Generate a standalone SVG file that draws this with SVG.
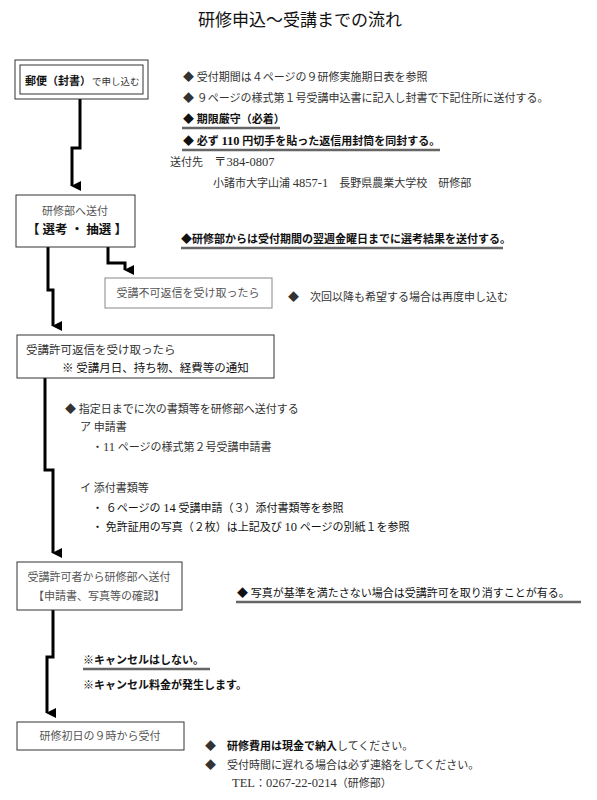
<svg xmlns="http://www.w3.org/2000/svg" width="597" height="800" viewBox="0 0 597 800">
<style>
text{font-family:"Liberation Serif","Noto Sans CJK JP",serif;font-size:11px;fill:#333}
.b{font-weight:bold;fill:#111}
.n{font-size:12.5px}
.t{font-family:"Noto Sans CJK JP","Noto Sans",sans-serif;font-size:17px;fill:#111}
.c{text-anchor:middle}
.box{fill:#fff;stroke:#333;stroke-width:1}
.gbox{fill:#fff;stroke:#888;stroke-width:1}
.ul{stroke:#666;stroke-width:2.5}
.conn{fill:none;stroke:#000;stroke-width:3}
</style>
<defs>
<marker id="ah" viewBox="0 0 10 10" refX="5" refY="9" markerWidth="10" markerHeight="10" markerUnits="userSpaceOnUse" orient="auto-start-reverse">
<path d="M0,0 L10,0 L5,10 Z" fill="#000"/>
</marker>
</defs>
<rect width="597" height="800" fill="#fff"/>
<text class="t c" x="300" y="26">研修申込～受講までの流れ</text>

<g id="connectors">
<path class="conn" d="M80,99 V148 H72 V186" marker-end="url(#ah)"/>
<path class="conn" d="M48,247 V290 H53 V326" marker-end="url(#ah)"/>
<path class="conn" d="M108,247 V263 H125 V270" marker-end="url(#ah)"/>
<path class="conn" d="M45,378 V470 H53 V553" marker-end="url(#ah)"/>
<path class="conn" d="M53,610 V657 H47 V713" marker-end="url(#ah)"/>
</g>

<g id="n1">
<rect class="box" x="15" y="60" width="133" height="39" stroke-width="1.5"/>
<rect class="box" x="20" y="65" width="123" height="29"/>
<text class="b" x="25" y="85" style="font-size:11px">郵便（封書）</text>
<text x="92" y="85" style="font-size:9.5px">で申し込む</text>
</g>
<g id="n1notes">
<text x="183" y="81">◆ 受付期間は４ページの９研修実施期日表を参照</text>
<text x="183" y="102">◆ ９ページの様式第１号受講申込書に記入し封書で下記住所に送付する。</text>
<text class="b" x="183" y="123">◆ 期限厳守（必着）</text>
<line class="ul" x1="182" y1="128" x2="280" y2="128"/>
<text class="b" x="183" y="145">◆ 必ず <tspan class="n">110</tspan> 円切手を貼った返信用封筒を同封する。</text>
<line class="ul" x1="182" y1="150" x2="440" y2="150"/>
<text x="170" y="166">送付先　<tspan class="n">〒384-0807</tspan></text>
<text x="213" y="187">小諸市大字山浦 <tspan class="n">4857-1</tspan>　長野県農業大学校　研修部</text>
</g>

<g id="n2">
<rect class="box" x="16" y="195" width="119" height="52"/>
<text class="c" x="75" y="215" style="fill:#555">研修部へ送付</text>
<text class="b c" x="77" y="234" style="font-size:12.5px">【 選考 ・ 抽選 】</text>
</g>
<g id="n2note">
<text class="b" x="181" y="243">◆研修部からは受付期間の翌週金曜日までに選考結果を送付する。</text>
<line class="ul" x1="181" y1="248" x2="503" y2="248"/>
</g>

<g id="n3">
<rect class="gbox" x="105" y="278" width="167" height="30"/>
<text class="c" x="188" y="297" style="fill:#555">受講不可返信を受け取ったら</text>
</g>
<text x="288" y="301">◆　次回以降も希望する場合は再度申し込む</text>

<g id="n4">
<rect class="box" x="17" y="335" width="257" height="43"/>
<text x="26" y="354" style="font-size:11.5px">受講許可返信を受け取ったら</text>
<text x="62" y="372" style="font-size:11.5px;fill:#111">※ 受講月日、持ち物、経費等の通知</text>
</g>

<g id="n4notes">
<text x="65" y="413">◆ 指定日までに次の書類等を研修部へ送付する</text>
<text x="80" y="431">ア 申請書</text>
<text x="92" y="451">・<tspan class="n">11</tspan> ページの様式第２号受講申請書</text>
<text x="80" y="492">イ 添付書類等</text>
<text x="92" y="512" style="fill:#111">・ ６ページの <tspan class="n">14</tspan> 受講申請（３）添付書類等を参照</text>
<text x="92" y="531" style="fill:#111">・ 免許証用の写真（２枚）は上記及び <tspan class="n">10</tspan> ページの別紙１を参照</text>
</g>

<g id="n5">
<rect class="box" x="17" y="562" width="165" height="48"/>
<text class="c" x="99" y="581" style="fill:#555">受講許可者から研修部へ送付</text>
<text class="c" x="99" y="600" style="fill:#555">【申請書、写真等の確認】</text>
</g>
<g id="n5note">
<text x="237" y="597" style="fill:#111">◆ 写真が基準を満たさない場合は受講許可を取り消すことが有る。</text>
<line class="ul" x1="236" y1="602" x2="581" y2="602"/>
<text class="b" x="83" y="664">※キャンセルはしない。</text>
<line class="ul" x1="83" y1="669" x2="210" y2="669"/>
<text class="b" x="83" y="689">※キャンセル料金が発生します。</text>
</g>

<g id="n6">
<rect class="box" x="17" y="722" width="167" height="28"/>
<text class="c" x="100" y="740" style="fill:#555">研修初日の９時から受付</text>
</g>
<g id="n6notes">
<text x="205" y="750">◆　<tspan class="b">研修費用は現金で納入</tspan>してください。</text>
<text x="205" y="769">◆　受付時間に遅れる場合は必ず連絡をしてください。</text>
<text x="232" y="787"><tspan class="n">TEL</tspan>：<tspan class="n">0267-22-0214</tspan>（研修部）</text>
</g>
</svg>
